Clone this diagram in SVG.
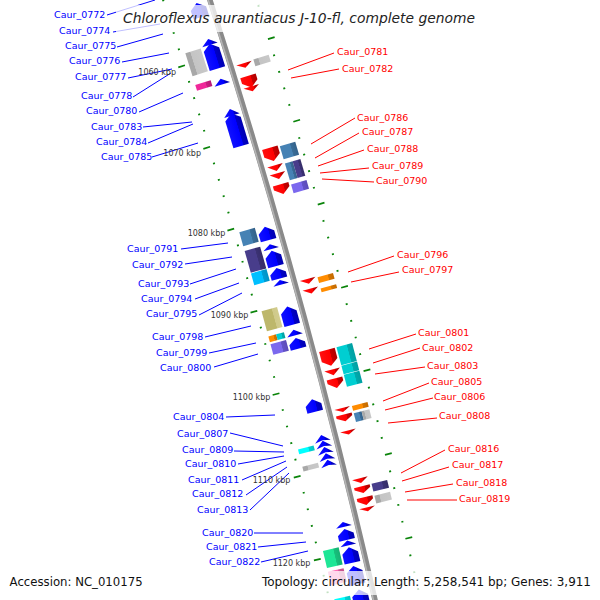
<svg xmlns="http://www.w3.org/2000/svg" xmlns:xlink="http://www.w3.org/1999/xlink" width="600" height="600" viewBox="0 0 600 600">
<defs>
<style>
.lb{font-family:"DejaVu Sans",Verdana,sans-serif;font-size:9.5px;fill:#0000ff}
.lr{font-family:"DejaVu Sans",Verdana,sans-serif;font-size:9.5px;fill:#ff0000}
.kbp{font-family:"DejaVu Sans",Verdana,sans-serif;font-size:8px;fill:#333}
.cb{stroke:#0000ff;stroke-width:1;fill:none}
.cr{stroke:#ff0000;stroke-width:1;fill:none}
.tk{stroke:#0a840a;stroke-width:1.7;fill:none}
.info{font-family:"DejaVu Sans",Verdana,sans-serif;font-size:11.8px;fill:#111}
.band{fill:#fff;fill-opacity:0.75}
</style>
<linearGradient id="gB"><stop offset="0" stop-color="#1010ff"/><stop offset=".64" stop-color="#0000ff"/><stop offset=".67" stop-color="#0000c8"/><stop offset="1" stop-color="#0000b0"/></linearGradient>
<linearGradient id="gR"><stop offset="0" stop-color="#ff1010"/><stop offset=".64" stop-color="#ff0000"/><stop offset=".67" stop-color="#c80000"/><stop offset="1" stop-color="#b00000"/></linearGradient>
<linearGradient id="gS"><stop offset="0" stop-color="#a8a8a8"/><stop offset=".3" stop-color="#a8a8a8"/><stop offset=".33" stop-color="#c4c4c4"/><stop offset="1" stop-color="#c8c8c8"/></linearGradient>
<linearGradient id="gSt"><stop offset="0" stop-color="#4682b4"/><stop offset=".64" stop-color="#4682b4"/><stop offset=".67" stop-color="#3a6d98"/><stop offset="1" stop-color="#33618a"/></linearGradient>
<linearGradient id="gDs"><stop offset="0" stop-color="#483d8b"/><stop offset=".64" stop-color="#483d8b"/><stop offset=".67" stop-color="#3b3274"/><stop offset="1" stop-color="#352d68"/></linearGradient>
<linearGradient id="gMs"><stop offset="0" stop-color="#7b68ee"/><stop offset=".64" stop-color="#7b68ee"/><stop offset=".67" stop-color="#6453c8"/><stop offset="1" stop-color="#5b4bb8"/></linearGradient>
<linearGradient id="gDk"><stop offset="0" stop-color="#00bfff"/><stop offset=".64" stop-color="#00bfff"/><stop offset=".67" stop-color="#009ed4"/><stop offset="1" stop-color="#0092c4"/></linearGradient>
<linearGradient id="gO"><stop offset="0" stop-color="#ff8c00"/><stop offset=".64" stop-color="#ff8c00"/><stop offset=".67" stop-color="#d47400"/><stop offset="1" stop-color="#c46b00"/></linearGradient>
<linearGradient id="gK"><stop offset="0" stop-color="#bdb76b"/><stop offset=".64" stop-color="#bdb76b"/><stop offset=".67" stop-color="#cfc98a"/><stop offset="1" stop-color="#d2cc8e"/></linearGradient>
<linearGradient id="gDt"><stop offset="0" stop-color="#00ced1"/><stop offset=".64" stop-color="#00ced1"/><stop offset=".67" stop-color="#00aaad"/><stop offset="1" stop-color="#009fa2"/></linearGradient>
<linearGradient id="gC"><stop offset="0" stop-color="#00ffff"/><stop offset=".64" stop-color="#00ffff"/><stop offset=".67" stop-color="#00d4d4"/><stop offset="1" stop-color="#00c4c4"/></linearGradient>
<linearGradient id="gDp"><stop offset="0" stop-color="#f0289a"/><stop offset=".64" stop-color="#f0289a"/><stop offset=".67" stop-color="#c81e80"/><stop offset="1" stop-color="#b81a76"/></linearGradient>
<linearGradient id="gSg"><stop offset="0" stop-color="#1ee696"/><stop offset=".64" stop-color="#1ee696"/><stop offset=".67" stop-color="#18c07c"/><stop offset="1" stop-color="#16b274"/></linearGradient>
<linearGradient id="gHp"><stop offset="0" stop-color="#ff69b4"/><stop offset=".64" stop-color="#ff69b4"/><stop offset=".67" stop-color="#d45696"/><stop offset="1" stop-color="#c4508a"/></linearGradient>
<path id="tl" d="M7135.5,0H7142.5M7229.5,0H7236.5"/>
<path id="ts" d="M7140.5,0H7142.5M7229.5,0H7231.5"/>
</defs>
<rect width="600" height="600" fill="#fff"/>
<g id="map" transform="translate(-6629.4,2205.3)">
<g id="backbone">
<circle cx="0" cy="0" r="7186" fill="none" stroke="#8a8a8a" stroke-width="5.5"/>
<circle cx="0" cy="0" r="7184.4" fill="none" stroke="#b4b4b4" stroke-width="1.6"/>
</g>
<g id="ticks" class="tk">
<use xlink:href="#ts" transform="rotate(-17.9827)"/>
<use xlink:href="#ts" transform="rotate(-17.8458)"/>
<use xlink:href="#ts" transform="rotate(-17.7088)"/>
<use xlink:href="#ts" transform="rotate(-17.5719)"/>
<use xlink:href="#tl" transform="rotate(-17.4350)"/>
<use xlink:href="#ts" transform="rotate(-17.2981)"/>
<use xlink:href="#ts" transform="rotate(-17.1612)"/>
<use xlink:href="#ts" transform="rotate(-17.0242)"/>
<use xlink:href="#ts" transform="rotate(-16.8873)"/>
<use xlink:href="#tl" transform="rotate(-16.7504)"/>
<use xlink:href="#ts" transform="rotate(-16.6135)"/>
<use xlink:href="#ts" transform="rotate(-16.4766)"/>
<use xlink:href="#ts" transform="rotate(-16.3397)"/>
<use xlink:href="#ts" transform="rotate(-16.2027)"/>
<use xlink:href="#tl" transform="rotate(-16.0658)"/>
<use xlink:href="#ts" transform="rotate(-15.9289)"/>
<use xlink:href="#ts" transform="rotate(-15.7920)"/>
<use xlink:href="#ts" transform="rotate(-15.6551)"/>
<use xlink:href="#ts" transform="rotate(-15.5181)"/>
<use xlink:href="#tl" transform="rotate(-15.3812)"/>
<use xlink:href="#ts" transform="rotate(-15.2443)"/>
<use xlink:href="#ts" transform="rotate(-15.1074)"/>
<use xlink:href="#ts" transform="rotate(-14.9705)"/>
<use xlink:href="#ts" transform="rotate(-14.8336)"/>
<use xlink:href="#tl" transform="rotate(-14.6966)"/>
<use xlink:href="#ts" transform="rotate(-14.5597)"/>
<use xlink:href="#ts" transform="rotate(-14.4228)"/>
<use xlink:href="#ts" transform="rotate(-14.2859)"/>
<use xlink:href="#ts" transform="rotate(-14.1490)"/>
<use xlink:href="#tl" transform="rotate(-14.0121)"/>
<use xlink:href="#ts" transform="rotate(-13.8751)"/>
<use xlink:href="#ts" transform="rotate(-13.7382)"/>
<use xlink:href="#ts" transform="rotate(-13.6013)"/>
<use xlink:href="#ts" transform="rotate(-13.4644)"/>
<use xlink:href="#tl" transform="rotate(-13.3275)"/>
<use xlink:href="#ts" transform="rotate(-13.1905)"/>
<use xlink:href="#ts" transform="rotate(-13.0536)"/>
<use xlink:href="#ts" transform="rotate(-12.9167)"/>
<use xlink:href="#ts" transform="rotate(-12.7798)"/>
</g>
<g id="forward" fill="url(#gB)">
<g id="f01" transform="rotate(-17.8225) translate(7172.5,0) scale(1.15,1)"><path d="M-7,7.5V-1.5L0,-7.5L7,-1.5V7.5Z"/></g>
<g id="f02" transform="rotate(-17.5546) translate(7172.5,0) scale(1.15,1)"><path d="M-7,3L0,-3L7,3Z"/></g>
<g id="f03" transform="rotate(-17.4350) translate(7172.5,0) scale(1.15,1)"><path d="M-7,13V-7L0,-13L7,-7V13Z"/></g>
<g id="f04" transform="rotate(-17.2237) translate(7172.5,0) scale(1.15,1)"><path d="M-7,3L0,-3L7,3Z"/></g>
<g id="f05" transform="rotate(-16.9666) translate(7172.5,0) scale(1.15,1)"><path d="M-7,3.5L0,-3.5L7,3.5Z"/></g>
<g id="f06" transform="rotate(-16.8211) translate(7172.5,0) scale(1.15,1)"><path d="M-7,17V-11L0,-17L7,-11V17Z"/></g>
<g id="f07" transform="rotate(-15.9576) translate(7172.5,0) scale(1.15,1)"><path d="M-7,7V-1L0,-7L7,-1V7Z"/></g>
<g id="f08" transform="rotate(-15.8468) translate(7172.5,0) scale(1.15,1)"><path d="M-7,2.5L0,-2.5L7,2.5Z"/></g>
<g id="f09" transform="rotate(-15.7495) translate(7172.5,0) scale(1.15,1)"><path d="M-7,8V-2L0,-8L7,-2V8Z"/></g>
<g id="f10" transform="rotate(-15.6259) translate(7172.5,0) scale(1.15,1)"><path d="M-7,5.5V0L0,-5.5L7,0V5.5Z"/></g>
<g id="f11" transform="rotate(-15.5518) translate(7172.5,0) scale(1.15,1)"><path d="M-7,2.5L0,-2.5L7,2.5Z"/></g>
<g id="f12" transform="rotate(-15.2751) translate(7172.5,0) scale(1.15,1)"><path d="M-7,9.5V-3.5L0,-9.5L7,-3.5V9.5Z"/></g>
<g id="f13" transform="rotate(-15.1356) translate(7172.5,0) scale(1.15,1)"><path d="M-7,3L0,-3L7,3Z"/></g>
<g id="f14" transform="rotate(-15.0471) translate(7172.5,0) scale(1.15,1)"><path d="M-7,5.5V0L0,-5.5L7,0V5.5Z"/></g>
<g id="f15" transform="rotate(-14.5328) translate(7172.5,0) scale(1.15,1)"><path d="M-7,6.5V-0.5L0,-6.5L7,-0.5V6.5Z"/></g>
<g id="f16" transform="rotate(-14.2617) translate(7172.5,0) scale(1.15,1)"><path d="M-7,3.5L0,-3.5L7,3.5L0,2Z"/></g>
<g id="f17" transform="rotate(-14.2139) translate(7172.5,0) scale(1.15,1)"><path d="M-7,3.5L0,-3.5L7,3.5L0,2Z"/></g>
<g id="f18" transform="rotate(-14.1621) translate(7172.5,0) scale(1.15,1)"><path d="M-7,3.5L0,-3.5L7,3.5L0,2Z"/></g>
<g id="f19" transform="rotate(-14.1103) translate(7172.5,0) scale(1.15,1)"><path d="M-7,3.5L0,-3.5L7,3.5L0,2Z"/></g>
<g id="f20" transform="rotate(-14.0584) translate(7172.5,0) scale(1.15,1)"><path d="M-7,3.5L0,-3.5L7,3.5L0,2Z"/></g>
<g id="f21" transform="rotate(-13.5529) translate(7172.5,0) scale(1.15,1)"><path d="M-7,2.5L0,-2.5L7,2.5Z"/></g>
<g id="f22" transform="rotate(-13.4708) translate(7172.5,0) scale(1.15,1)"><path d="M-7,5.5V0L0,-5.5L7,0V5.5Z"/></g>
<g id="f23" transform="rotate(-13.4015) translate(7172.5,0) scale(1.15,1)"><path d="M-7,2.5L0,-2.5L7,2.5Z"/></g>
<g id="f24" transform="rotate(-13.3026) translate(7172.5,0) scale(1.15,1)"><path d="M-7,8V-2L0,-8L7,-2V8Z"/></g>
<g id="f25" transform="rotate(-13.1368) translate(7172.5,0) scale(1.15,1)"><path d="M-7,9.5V-3.5L0,-9.5L7,-3.5V9.5Z"/></g>
<g id="f26" transform="rotate(-12.9063) translate(7172.5,0) scale(1.15,1)"><path d="M-7,14V-8L0,-14L7,-8V14Z"/></g>
</g>
<g id="cogL">
<g id="b01" transform="rotate(-17.4294) translate(7154.5,0) scale(1.15,1)"><rect x="-7" y="-12" width="14" height="24" fill="url(#gS)"/></g>
<g id="b02" transform="rotate(-17.2357) translate(7154.5,0) scale(1.15,1)"><rect x="-7" y="-3" width="14" height="6" fill="url(#gDp)"/></g>
<g id="b03" transform="rotate(-15.9688) translate(7154.5,0) scale(1.15,1)"><rect x="-7" y="-7.2" width="14" height="14.4" fill="url(#gSt)"/></g>
<g id="b04" transform="rotate(-15.7798) translate(7154.5,0) scale(1.15,1)"><rect x="-7" y="-11.3" width="14" height="22.6" fill="url(#gDs)"/></g>
<g id="b05" transform="rotate(-15.6347) translate(7154.5,0) scale(1.15,1)"><rect x="-7" y="-6.1" width="14" height="12.2" fill="url(#gDk)"/></g>
<g id="b06" transform="rotate(-15.2855) translate(7154.5,0) scale(1.15,1)"><rect x="-7" y="-10.3" width="14" height="20.6" fill="url(#gK)"/></g>
<g id="b07" transform="rotate(-15.1356) translate(7154.5,0) scale(1.15,1)"><rect x="-7" y="-3" width="7" height="6" fill="url(#gO)"/><rect x="0" y="-3" width="7" height="6" fill="url(#gDt)"/></g>
<g id="b08" transform="rotate(-15.0511) translate(7154.5,0) scale(1.15,1)"><rect x="-7" y="-5.5" width="14" height="11" fill="url(#gMs)"/></g>
<g id="b09" transform="rotate(-14.2035) translate(7154.5,0) scale(1.15,1)"><rect x="-7" y="-2.5" width="14" height="5" fill="url(#gC)"/></g>
<g id="b10" transform="rotate(-14.0608) translate(7154.5,0) scale(1.15,1)"><rect x="-7" y="-2.5" width="14" height="5" fill="url(#gS)"/></g>
<g id="b11" transform="rotate(-13.3138) translate(7154.5,0) scale(1.15,1)"><rect x="-7" y="-8.75" width="14" height="17.5" fill="url(#gSg)"/></g>
<g id="b12" transform="rotate(-13.1567) translate(7154.5,0) scale(1.15,1)"><rect x="-7" y="-7" width="14" height="14" fill="url(#gHp)"/></g>
<g id="b13" transform="rotate(-12.9223) translate(7154.5,0) scale(1.15,1)"><rect x="-7" y="-8" width="14" height="16" fill="url(#gC)"/></g>
</g>
<g id="reverse" fill="url(#gR)">
<g id="r01" transform="rotate(-17.2907) translate(7199.5,0) scale(1.15,1)"><path d="M-7,-2.5H7L0,2.5Z"/></g>
<g id="r02" transform="rotate(-17.1559) translate(7199.5,0) scale(1.15,1)"><path d="M-7,-6H7V0L0,6L-7,0Z"/></g>
<g id="r03" transform="rotate(-17.0961) translate(7199.5,0) scale(1.15,1)"><path d="M-7,-2.5H7L0,2.5Z"/></g>
<g id="r04" transform="rotate(-16.5508) translate(7199.5,0) scale(1.15,1)"><path d="M-7,-7H7V1L0,7L-7,1Z"/></g>
<g id="r05" transform="rotate(-16.4376) translate(7199.5,0) scale(1.15,1)"><path d="M-7,-3H7L0,3Z"/></g>
<g id="r06" transform="rotate(-16.3714) translate(7199.5,0) scale(1.15,1)"><path d="M-7,-3H7L0,3Z"/></g>
<g id="r07" transform="rotate(-16.2630) translate(7199.5,0) scale(1.15,1)"><path d="M-7,-5H7V-1L0,5L-7,-1Z"/></g>
<g id="r08" transform="rotate(-15.5000) translate(7199.5,0) scale(1.15,1)"><path d="M-7,-2.5H7L0,2.5Z"/></g>
<g id="r09" transform="rotate(-15.4194) translate(7199.5,0) scale(1.15,1)"><path d="M-7,-2.5H7L0,2.5Z"/></g>
<g id="r10" transform="rotate(-14.8685) translate(7199.5,0) scale(1.15,1)"><path d="M-7,-8.25H7V2.25L0,8.25L-7,2.25Z"/></g>
<g id="r11" transform="rotate(-14.7489) translate(7199.5,0) scale(1.15,1)"><path d="M-7,-3H7L0,3Z"/></g>
<g id="r12" transform="rotate(-14.6596) translate(7199.5,0) scale(1.15,1)"><path d="M-7,-5H7V-1L0,5L-7,-1Z"/></g>
<g id="r13" transform="rotate(-14.4403) translate(7199.5,0) scale(1.15,1)"><path d="M-7,-2H7L0,2Z"/></g>
<g id="r14" transform="rotate(-14.3750) translate(7199.5,0) scale(1.15,1)"><path d="M-7,-3.5H7V-1L0,3.5L-7,-1Z"/></g>
<g id="r15" transform="rotate(-14.2554) translate(7199.5,0) scale(1.15,1)"><path d="M-7,-2H7L0,2Z"/></g>
<g id="r16" transform="rotate(-13.8599) translate(7199.5,0) scale(1.15,1)"><path d="M-7,-2.5H7L0,2.5Z"/></g>
<g id="r17" transform="rotate(-13.7866) translate(7199.5,0) scale(1.15,1)"><path d="M-7,-3.5H7V-1L0,3.5L-7,-1Z"/></g>
<g id="r18" transform="rotate(-13.6925) translate(7199.5,0) scale(1.15,1)"><path d="M-7,-4H7V-1L0,4L-7,-1Z"/></g>
<g id="r19" transform="rotate(-13.6255) translate(7199.5,0) scale(1.15,1)"><path d="M-7,-2H7L0,2Z"/></g>
</g>
<g id="cogR">
<g id="rb01" transform="rotate(-17.2875) translate(7217.5,0) scale(1.15,1)"><rect x="-7" y="-3.5" width="14" height="7" fill="url(#gS)"/></g>
<g id="rb02" transform="rotate(-16.5404) translate(7217.5,0) scale(1.15,1)"><rect x="-7" y="-6.75" width="14" height="13.5" fill="url(#gSt)"/></g>
<g id="rb03" transform="rotate(-16.3818) translate(7217.5,0) scale(1.15,1)"><rect x="-7" y="-8.75" width="7" height="17.5" fill="url(#gSt)"/><rect x="0" y="-8.75" width="7" height="17.5" fill="url(#gDs)"/></g>
<g id="rb04" transform="rotate(-16.2422) translate(7217.5,0) scale(1.15,1)"><rect x="-7" y="-4.5" width="14" height="9" fill="url(#gMs)"/></g>
<g id="rb05" transform="rotate(-15.4872) translate(7217.5,0) scale(1.15,1)"><rect x="-7" y="-3" width="14" height="6" fill="url(#gO)"/></g>
<g id="rb06" transform="rotate(-15.4035) translate(7217.5,0) scale(1.15,1)"><rect x="-7" y="-2" width="14" height="4" fill="url(#gO)"/></g>
<g id="rb07" transform="rotate(-14.7728) translate(7217.5,0) scale(1.15,1)"><rect x="-7" y="-20.5" width="14" height="18.6" fill="url(#gDt)"/><rect x="-7" y="-1.3" width="14" height="8.8" fill="url(#gDt)"/><rect x="-7" y="8.1" width="14" height="12.4" fill="url(#gDt)"/></g>
<g id="rb08" transform="rotate(-14.4332) translate(7217.5,0) scale(1.15,1)"><rect x="-7" y="-2.5" width="14" height="5" fill="url(#gO)"/></g>
<g id="rb09" transform="rotate(-14.3574) translate(7217.5,0) scale(1.15,1)"><rect x="-7" y="-4.5" width="7" height="9" fill="url(#gSt)"/><rect x="0" y="-4.5" width="7" height="9" fill="url(#gS)"/></g>
<g id="rb10" transform="rotate(-13.7834) translate(7217.5,0) scale(1.15,1)"><rect x="-7" y="-4" width="14" height="8" fill="url(#gDs)"/></g>
<g id="rb11" transform="rotate(-13.6861) translate(7217.5,0) scale(1.15,1)"><rect x="-7" y="-4" width="14" height="8" fill="url(#gS)"/></g>
</g>
</g>
<g id="connectors">
<path class="cb" d="M107,15L155,0M113,32L160,24M117,47L163,34M122,62L169,53M128,78L172,69M133,97L171,73M139,112L183,93M143,127L192,122M148,143L193,124M152,157L198,143"/>
<path class="cb" d="M181,249L228,243M185,264L232,257M190,284L236,269M195,299L239,283M199,315L242,293M205,337L251,326M209,353L256,343M214,367L258,354"/>
<path class="cb" d="M226,417L275,415M230,433L283,446M234,451L284,452M238,464L284,456M242,480L286,461M246,495L287,467M250,510L289,473M254,533L303,533M258,547L306,542M261,562L308,551"/>
<path class="cr" d="M288,70L334,53M291,78L339,69M311,144L355,118M315,158L359,133M318,166L364,150M320,173L369,168M322,179L374,182"/>
<path class="cr" d="M348,272L394,256M351,282L399,272M369,349L416,334M373,363L420,348M375,374L425,367M383,401L429,383M385,410L433,398M388,423L437,418M401,473L445,450M402,481L449,467M405,492L453,484M407,500L457,500"/>
</g>
<g id="labels">
<text class="lb" x="54" y="18">Caur_0772</text>
<text class="lb" x="59" y="34">Caur_0774</text>
<text class="lb" x="65" y="49">Caur_0775</text>
<text class="lb" x="69" y="64">Caur_0776</text>
<text class="lb" x="75" y="80">Caur_0777</text>
<text class="lb" x="81" y="99">Caur_0778</text>
<text class="lb" x="86" y="114">Caur_0780</text>
<text class="lb" x="91" y="130">Caur_0783</text>
<text class="lb" x="96" y="145">Caur_0784</text>
<text class="lb" x="101" y="160">Caur_0785</text>
<text class="lb" x="127" y="252">Caur_0791</text>
<text class="lb" x="132" y="267.5">Caur_0792</text>
<text class="lb" x="138" y="286.5">Caur_0793</text>
<text class="lb" x="141" y="301.5">Caur_0794</text>
<text class="lb" x="146" y="316.5">Caur_0795</text>
<text class="lb" x="152" y="340">Caur_0798</text>
<text class="lb" x="156" y="355.5">Caur_0799</text>
<text class="lb" x="160" y="370.5">Caur_0800</text>
<text class="lb" x="173" y="420">Caur_0804</text>
<text class="lb" x="177" y="436.5">Caur_0807</text>
<text class="lb" x="182" y="452.5">Caur_0809</text>
<text class="lb" x="185" y="467">Caur_0810</text>
<text class="lb" x="188" y="482.5">Caur_0811</text>
<text class="lb" x="192" y="496.5">Caur_0812</text>
<text class="lb" x="197" y="512.5">Caur_0813</text>
<text class="lb" x="202" y="536">Caur_0820</text>
<text class="lb" x="206" y="550">Caur_0821</text>
<text class="lb" x="209" y="565">Caur_0822</text>
<text class="lr" x="337" y="55">Caur_0781</text>
<text class="lr" x="342" y="72">Caur_0782</text>
<text class="lr" x="357" y="120.5">Caur_0786</text>
<text class="lr" x="362" y="135">Caur_0787</text>
<text class="lr" x="367" y="152">Caur_0788</text>
<text class="lr" x="372" y="169">Caur_0789</text>
<text class="lr" x="376" y="184">Caur_0790</text>
<text class="lr" x="397" y="258.3">Caur_0796</text>
<text class="lr" x="402" y="273.3">Caur_0797</text>
<text class="lr" x="418" y="336">Caur_0801</text>
<text class="lr" x="422" y="350.7">Caur_0802</text>
<text class="lr" x="427" y="369.3">Caur_0803</text>
<text class="lr" x="431" y="385">Caur_0805</text>
<text class="lr" x="434" y="400">Caur_0806</text>
<text class="lr" x="439" y="419">Caur_0808</text>
<text class="lr" x="448" y="452.3">Caur_0816</text>
<text class="lr" x="452" y="467.7">Caur_0817</text>
<text class="lr" x="456" y="485.7">Caur_0818</text>
<text class="lr" x="459" y="501.7">Caur_0819</text>
</g>
<g id="kbp-labels">
<text class="kbp" x="138.3" y="74.5">1060 kbp</text>
<text class="kbp" x="163.3" y="155.7">1070 kbp</text>
<text class="kbp" x="187.7" y="236">1080 kbp</text>
<text class="kbp" x="210.7" y="318.3">1090 kbp</text>
<text class="kbp" x="232.7" y="400.3">1100 kbp</text>
<text class="kbp" x="252.7" y="483.3">1110 kbp</text>
<text class="kbp" x="272.7" y="565.7">1120 kbp</text>
</g>
<g id="title">
<rect class="band" x="116" y="5" width="366" height="27"/>
<text x="123" y="23" font-family="'DejaVu Sans',Verdana,sans-serif" font-size="13.9" font-style="italic" fill="#222" textLength="352" lengthAdjust="spacingAndGlyphs">Chloroflexus aurantiacus J-10-fl, complete genome</text>
</g>
<g id="info">
<rect class="band" x="5" y="571" width="142" height="24"/>
<rect class="band" x="257" y="571" width="339" height="24"/>
<text class="info" x="9.6" y="586" textLength="133" lengthAdjust="spacingAndGlyphs">Accession: NC_010175</text>
<text class="info" x="262" y="586" textLength="329" lengthAdjust="spacingAndGlyphs">Topology: circular; Length: 5,258,541 bp; Genes: 3,911</text>
</g>
</svg>
